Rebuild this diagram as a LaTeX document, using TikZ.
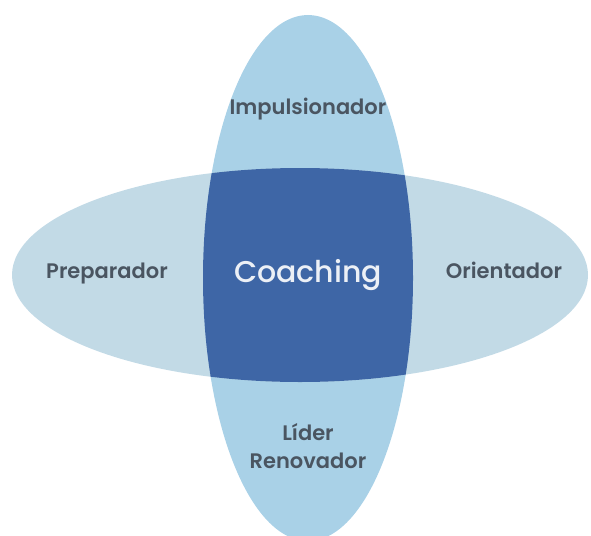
\documentclass[tikz,border=0pt]{standalone}
\usepackage{fontspec}
\setmainfont{Poppins}[UprightFont=* Medium, BoldFont=* SemiBold]
\definecolor{petalblue}{HTML}{A9D1E7}
\definecolor{wingblue}{HTML}{C2DAE6}
\definecolor{coreblue}{HTML}{3E66A6}
\definecolor{labelgrey}{HTML}{4A5561}
\tikzset{
  role/.style={text=labelgrey, font=\fontsize{21}{28}\selectfont\bfseries, align=center},
  core/.style={text=white!90!coreblue, font=\fontsize{30}{32}\selectfont}
}

\begin{document}
\begin{tikzpicture}[x=1pt,y=-1pt]
        \useasboundingbox (0,0) rectangle (591,535);
        % the two ellipses and their overlap
        \fill[petalblue] (308,278) ellipse (105 and 263);
        \fill[wingblue] (300,275) ellipse (288 and 107);
        \begin{scope}
            \clip (308,278) ellipse (105 and 263);
            \fill[coreblue] (300,275) ellipse (288 and 107);
        \end{scope}
        % labels
        \node[core, anchor=base] (coaching) at (308,282) {Coaching};
        \node[role, anchor=base] (impulsionador) at (308,114) {Impulsionador};
        \node[role, anchor=base] (preparador) at (107,278) {Preparador};
        \node[role, anchor=base] (orientador) at (504,278) {Orientador};
        \node[role] (lider) at (308,446) {Líder\\Renovador};
    \end{tikzpicture}
\end{document}
